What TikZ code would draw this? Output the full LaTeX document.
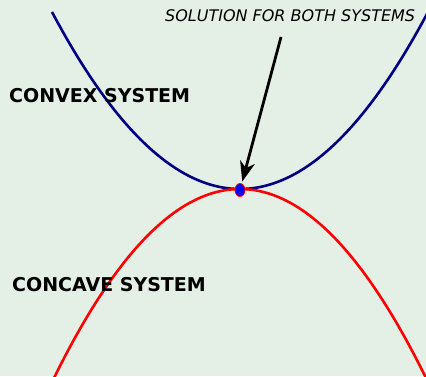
\documentclass[tikz,border=0pt]{standalone}
\usepackage{fontspec}
\setmainfont{DejaVu Sans}
\usetikzlibrary{arrows.meta,shapes.geometric}
\definecolor{bgc}{RGB}{228,239,230}
\definecolor{navyc}{RGB}{0,0,128}
\tikzset{
  curve/.style={line width=2.6pt},
  lbl/.style={font=\bfseries\fontsize{19}{22}\selectfont, inner sep=0pt, anchor=west},
  note/.style={font=\itshape\fontsize{16}{19}\selectfont, inner sep=0pt, anchor=west},
  pt/.style={ellipse, fill=blue, draw=red, line width=0.8pt, minimum width=10pt, minimum height=13pt, inner sep=0pt}
}
\begin{document}
\begin{tikzpicture}[x=1pt,y=-1pt]
\fill[bgc] (0,0) rectangle (426,376);
\useasboundingbox (0,0) rectangle (426,376);
\draw[curve, navyc] plot[domain=52:428, samples=120] (\x, {189-(0.07077*(\x-240))^2});
\draw[curve, red] plot[domain=54:428, samples=120] (\x, {189+(0.07392*(\x-240))^2});
\node[pt] (p) at (240,190) {};
\coordinate (a) at (281,37);
\draw[line width=2.8pt, -{Stealth[length=20pt, width=15pt, inset=6pt]}, shorten >=2pt] (a) -- (p);
\node[lbl] (cvx) at (9,96) {CONVEX SYSTEM};
\node[lbl] (ccv) at (12,285) {CONCAVE SYSTEM};
\node[note] (sol) at (165,16) {SOLUTION FOR BOTH SYSTEMS};
\end{tikzpicture}
\end{document}
